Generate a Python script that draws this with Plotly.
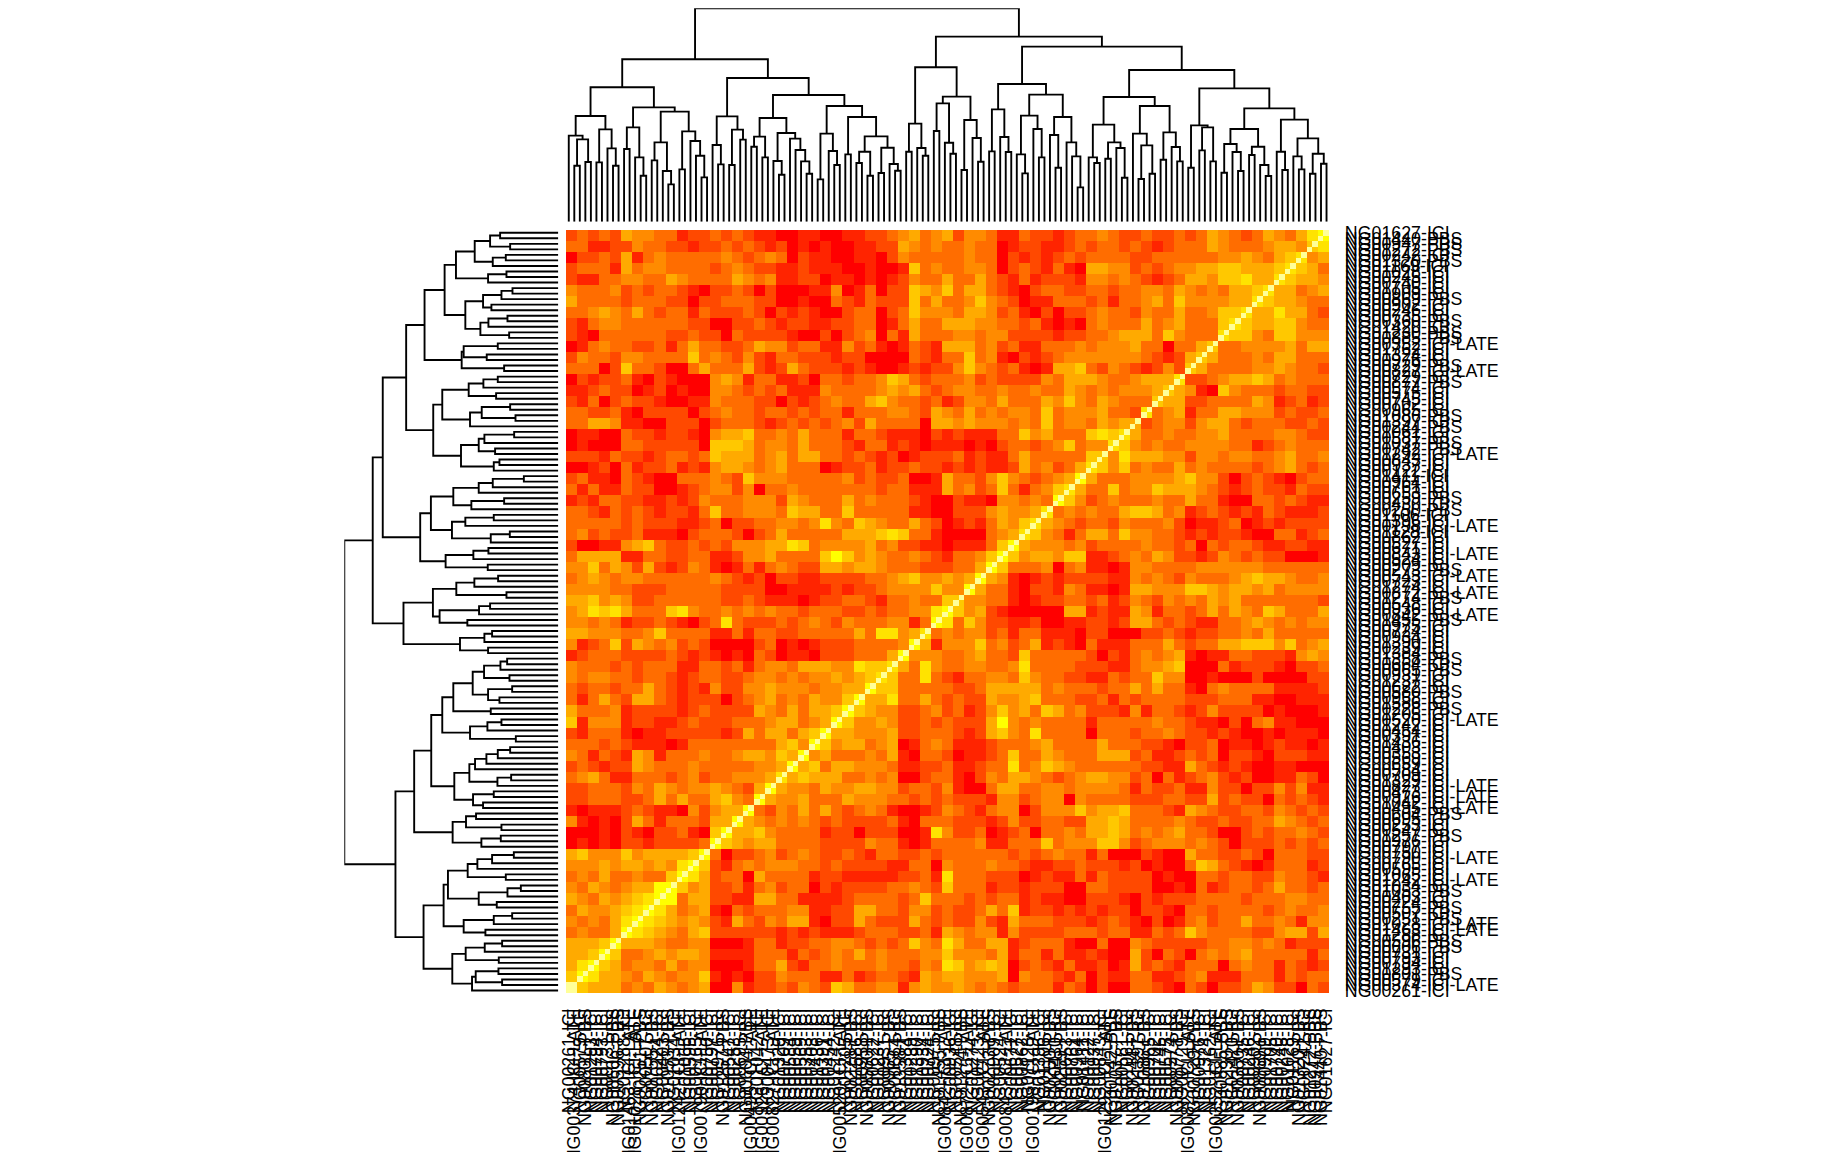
import plotly.graph_objects as go

W, H = 1824, 1152
L = None

# ---------- dendrogram (same tree on top and on the left); each node = [height, left, right]
A1 = [258, L, [247, [168, L, L], [179, L, L]]]
B1 = [277, [178, L, L], [220, L, [168, L, L]]]
C1 = [317, A1, B1]
N283 = [283, [218, L, L], [193, L, [138, L, L]]]
N238 = [238, [184, L, L], [152, L, [112, L, L]]]
N271 = [271, [157, L, L], [242, L, [198, L, [133, L, L]]]]
N343 = [343, N283, [330, N238, N271]]
D1 = [403, C1, N343]
E1 = [316, [230, L, [172, L, L]], [276, [170, L, L], [246, L, L]]]
F1 = [311, [255, [225, L, L], [193, L, L]],
      [266, [182, L, [141, L, L]], [249, L, [215, L, [181, L, [144, L, L]]]]]]
G1 = [264, [127, L, L], [212, L, [170, L, L]]]
H1 = [314, [202, L, L], [256, [210, [176, L, L], [138, L, L]],
                         [222, [146, L, L], [173, L, [153, L, L]]]]]
LEFT = [487, D1, [431, E1, [380, F1, [347, G1, H1]]]]

R294 = [294, [210, L, L], [221, L, [198, L, L]]]
R355 = [355, [272, L, L], [237, L, [204, L, L]]]
R305 = [305, [155, L, L], [251, L, [180, L, L]]]
R463 = [463, R294, [375, R355, R305]]
R337 = [337, [211, L, L], [254, L, [209, L, L]]]
R318 = [318, [202, L, [145, L, L]], [278, L, [193, L, L]]]
R314 = [314, [260, L, [162, L, L]], [238, L, [196, L, [103, L, L]]]]
R413 = [413, R337, [381, R318, R314]]
R291 = [291, [193, L, [176, L, L]], [238, [189, L, L], [221, L, [132, L, L]]]]
R347 = [347, [264, L, [229, [128, L, L], [144, L, L]]],
        [268, [186, L, L], [224, L, [181, L, L]]]]
R289 = [289, [162, L, L], [283, [214, L, L], [181, L, L]]]
R278 = [278, [233, [147, L, L], [209, L, [152, L, L]]],
        [225, [200, L, L], [170, L, [137, L, L]]]]
R306 = [306, [210, L, [155, L, L]],
        [250, [196, L, [157, L, L]], [204, [144, L, L], [174, L, L]]]]
RIGHT = [555, R463, [525, R413, [455, [374, R291, R347], [400, R289, [340, R278, R306]]]]]
ROOT = [640, LEFT, RIGHT]

# ---------- row labels
ROW_IDS = ["NG01627","NG01440","NG00947","NG01272","NG00242","NG01320","NG01169","NG01028","NG00245","NG00740",
"NG01705","NG00909","NG00869","NG00902","NG00246","NG00735","NG00360","NG01420","NG01230","NG00885",
"NG00352","NG01762","NG01324","NG00976","NG00729","NG00827","NG00729","NG00877","NG00574","NG00575",
"NG00745","NG00702","NG00965","NG01086","NG01397","NG00244","NG01061","NG00581","NG01037","NG00742",
"NG01292","NG00843","NG00937","NG00122","NG01411","NG00964","NG00761","NG00653","NG00259","NG00430",
"NG00250","NG01106","NG01396","NG00198","NG01128","NG00862","NG00527","NG00671","NG00843","NG00524",
"NG00909","NG00273","NG00543","NG00723","NG01274","NG00872","NG01274","NG00548","NG00936","NG00842",
"NG01455","NG00975","NG00724","NG00934","NG01390","NG00239","NG01384","NG01358","NG00664","NG00965",
"NG00931","NG01237","NG00622","NG00580","NG00958","NG01586","NG00228","NG01205","NG00520","NG01242",
"NG00454","NG00391","NG01436","NG00403","NG00353","NG00569","NG00659","NG00584","NG00709","NG01329",
"NG00827","NG00473","NG00926","NG01042","NG00495","NG00604","NG00695","NG00253","NG00547","NG01257",
"NG00976","NG00797","NG00750","NG00790","NG00765","NG00595","NG01065","NG01242","NG01034","NG01053",
"NG00403","NG00224","NG00755","NG00507","NG00251","NG01028","NG01463","NG01288","NG00596","NG00606",
"NG00731","NG00793","NG00794","NG01293","NG00801","NG00579","NG00374","NG00261"]
LATE_ROWS = [20, 25, 40, 53, 58, 62, 65, 69, 88, 100, 102, 104, 113, 117, 125, 126, 136]
PBS_ROWS = [1, 2, 3, 5, 12, 16, 18, 19, 24, 27, 33, 35, 38, 39, 48, 50, 61, 66, 70, 77,
            79, 83, 86, 105, 109, 119, 122, 124, 128, 129, 134]

# ---------- matrix levels, one string per row (2x2 cell blocks), upper-left triangle; the rest mirrors it
TRI = """
2323254433 1223232110 0110011223 4534524431 1322123343 2232232354 323543578
3311224332 2122323212 0101001122 5434334330 1221123233 2321233354 33345546
0223251343 3333432343 0211001102 4333334330 2121232333 3223333334 4543567
2333153443 3332343221 1211100100 1634334430 2321310554 4232344556 655567
2113344335 4333354341 1220110101 2433533532 1312221443 4321235546 67557
4333423233 2102232020 0011401302 2654635532 1023322332 3344354343 5567
5333323332 2022333220 0100321322 2635334643 2011333231 3345364444 557
3345435323 3132223202 1210023302 3644435542 3102022343 3243353346 67
2134433333 3220022321 2211223301 3533555443 3231010343 3353453336 7
2103333332 2322032222 1002023403 1533344344 2222122334 5553643337
0134332231 3533223544 2331142310 1321555342 3113334344 453303356
2433244333 3634324213 3222122000 0321336341 0212344444 44321256
3330263320 0353335212 5322212100 1212246432 3101556324 3212426
0212231021 0004541331 1203323346 5323334232 2224355543 345557
1123220120 1004432323 1114333345 4532344334 3343354343 44456
2130232210 0114333220 2123433564 3323124435 3335464354 3336
3322310222 2023433233 2323313334 4325435343 4436344453 327
3355411002 2202333212 3232342533 3305545444 3436344354 55
0110032212 2104556334 3533313321 1102121113 3645333676 7
0100033222 2206665344 3533321331 2101110102 3323463447
2221322123 3236555345 3553323212 0122231211 353333366
0012031223 1214554345 3330122312 2322121211 25342357
2311032100 3334326444 3333342322 3001533246 4323458
3131132200 1234424033 4333333323 3111534236 313467
1213322112 1243334442 5433353433 3210021104 43438
3321323212 2136334443 6553363333 3110022245 4457
3333323222 1123022334 4347436543 3532012135 467
3423223111 0233320235 3333355567 6331000034 57
2001145632 2323244455 7634444534 2211011136 8
3555511332 2331124453 3336864543 3432133468
4463542521 2431013134 3225545543 332223358
3454344333 3334321202 2112222334 56445458
4444332223 3333222200 1111212234 4446448
5564542233 3333223211 1012233213 343366
4576753336 7433434343 3233322323 34478
4434312232 1023732223 2343243334 4138
5544433463 3331131332 2333335377 457
4123625434 2320000230 1012223333 48
1233322223 2121010320 1102223335 8
4333232333 1133231344 3555447667
4344332332 1233223443 434454567
3233233532 1214224454 44344558
3135325532 1222023453 4354468
5333412222 1232222543 535568
6144412211 2322233345 53458
2133310112 2222125355 3568
3332321110 1333333335 648
4313215413 3343345546 58
2321225433 3433333445 8
3453113332 3423344457
2233324354 344543258
2233322353 53356438
1011123211 0424558
4101025313 332558
0001021022 31068
0101022122 2238
5644464555 568
444545545478
34353343368
4354345588
543545678
35445678
4343578
343358
55568
5568
578
68
9
"""
DIAG_LEVEL = 9
LEVEL_COLORS = ["#FF0000", "#FF2400", "#FF4900", "#FF6D00", "#FF8B00",
                "#FFAA00", "#FFC800", "#FFE300", "#FFFF00", "#FFFF99"]

# ---------- build
n = len(ROW_IDS)
rows = [r.replace(" ", "") for r in TRI.strip().splitlines()]
m = len(rows)
block = [[0] * m for _ in range(m)]
for r in range(m):
    for c in range(m):
        if r + c < m:
            s = rows[r]
            block[r][c] = int(s[min(c, len(s) - 1)])
for r in range(m):
    for c in range(m):
        if r + c >= m:
            block[r][c] = block[m - 1 - c][m - 1 - r]
z = [[block[r // 2][c // 2] for c in range(n)] for r in range(n)]
for i in range(n):
    z[i][n - 1 - i] = DIAG_LEVEL

row_labels = []
for i, name in enumerate(ROW_IDS):
    suffix = "-ICI-LATE" if i in LATE_ROWS else "-PBS" if i in PBS_ROWS else "-ICI"
    row_labels.append(name + suffix)
col_labels = row_labels[::-1]

segments_pos, segments_h = [], []
counter = [0]
def walk(node):
    if node is None:
        pos = counter[0]
        counter[0] += 1
        return pos, 0
    h, a, b = node
    pa, ha = walk(a)
    pb, hb = walk(b)
    segments_pos.extend([pa, pa, pb, pb, None])
    segments_h.extend([ha, h, h, hb, None])
    return (pa + pb) / 2, h
walk(ROOT)

stops = []
nc = len(LEVEL_COLORS)
for i, col in enumerate(LEVEL_COLORS):
    stops.append([i / nc, col])
    stops.append([(i + 1) / nc, col])

fig = go.Figure()
fig.add_trace(go.Heatmap(z=z, x=list(range(n)), y=list(range(n)), colorscale=stops,
                         zmin=-0.5, zmax=nc - 0.5, showscale=False, xgap=0, ygap=0,
                         xaxis="x", yaxis="y", hoverinfo="skip"))
line = dict(color="#000000", width=1.9)
fig.add_trace(go.Scatter(x=segments_pos, y=segments_h, mode="lines", line=line,
                         xaxis="x2", yaxis="y2", hoverinfo="skip", showlegend=False))
fig.add_trace(go.Scatter(x=segments_h,
                         y=[None if p is None else n - 1 - p for p in segments_pos],
                         mode="lines", line=line, xaxis="x3", yaxis="y3",
                         hoverinfo="skip", showlegend=False))

x0, x1, y0, y1 = 566, 1329.3, 230, 993.3
dx = [x0 / W, x1 / W]
dy = [1 - y1 / H, 1 - y0 / H]
font = dict(family="Liberation Sans, Arial, sans-serif", size=17.8, color="#000000")
hidden = dict(visible=False, showgrid=False, zeroline=False)
fig.update_layout(
    width=W, height=H, margin=dict(l=0, r=0, t=0, b=0),
    paper_bgcolor="#FFFFFF", plot_bgcolor="#FFFFFF", showlegend=False,
    xaxis=dict(domain=dx, range=[-0.5, n - 0.5], anchor="y", side="bottom",
               tickmode="array", tickvals=list(range(n)), ticktext=col_labels,
               tickangle=-90, ticks="outside", ticklen=7, tickcolor="rgba(255,255,255,0)",
               tickfont=font, showgrid=False, zeroline=False, showline=False, automargin=False),
    yaxis=dict(domain=dy, range=[n - 0.5, -0.5], anchor="x", side="right",
               tickmode="array", tickvals=list(range(n)), ticktext=row_labels,
               ticks="outside", ticklen=11, tickcolor="rgba(255,255,255,0)",
               tickfont=font, showgrid=False, zeroline=False, showline=False, automargin=False),
    xaxis2=dict(domain=dx, range=[-0.5, n - 0.5], anchor="y2", **hidden),
    yaxis2=dict(domain=[1 - 221.7 / H, 1 - 8.3 / H], range=[0, 640], anchor="x2", **hidden),
    xaxis3=dict(domain=[344.3 / W, 558.3 / W], range=[640, 0], anchor="y3", **hidden),
    yaxis3=dict(domain=dy, range=[n - 0.5, -0.5], anchor="x3", **hidden),
)
fig.write_html("out.html", config={"displayModeBar": False},
               post_script="document.body.style.margin='0';document.body.style.overflow='hidden';")
